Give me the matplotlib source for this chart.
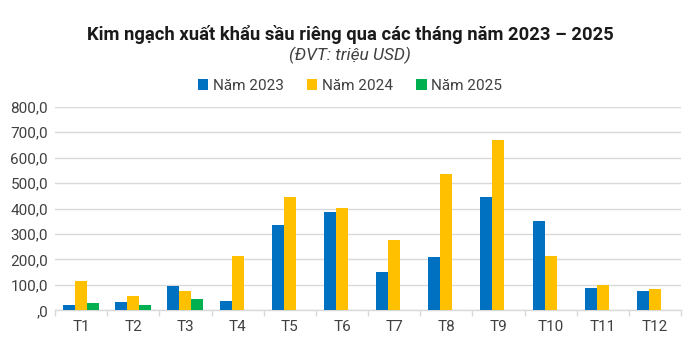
import matplotlib
matplotlib.use("Agg")
import matplotlib.pyplot as plt
import numpy as np
from matplotlib.ticker import FuncFormatter, FixedLocator

months = ["T1", "T2", "T3", "T4", "T5", "T6", "T7", "T8", "T9", "T10", "T11", "T12"]
y2023 = [22, 33, 94, 35, 335, 386, 152, 210, 444, 350, 88, 75]
y2024 = [114, 55, 77, 215, 445, 402, 276, 536, 669, 213, 100, 84]
y2025 = [29, 21, 43, np.nan, np.nan, np.nan, np.nan, np.nan, np.nan, np.nan, np.nan, np.nan]
series_names = ["Năm 2023", "Năm 2024", "Năm 2025"]
colors = ["#0070C0", "#FFC000", "#00B050"]

plt.rcParams['font.family'] = ['Roboto', 'DejaVu Sans']

fig = plt.figure(figsize=(7, 3.6), dpi=100)
ax = fig.add_axes([0.0786, 0.138, 0.973 - 0.0786, 0.7036 - 0.138])

x = np.arange(len(months))
w = 0.23
for i, (vals, name, c) in enumerate(zip([y2023, y2024, y2025], series_names, colors)):
    ax.bar(x + (i - 1) * w, vals, width=w, color=c, label=name, zorder=3)

ax.set_xlim(-0.5, len(months) - 0.5)
ax.set_ylim(0, 800)
ax.set_yticks(np.arange(0, 801, 100))

def fmt(v, pos):
    if v == 0:
        return ",0"
    return f"{v:.1f}".replace(".", ",")
ax.yaxis.set_major_formatter(FuncFormatter(fmt))
ax.grid(axis='y', color='#D9D9D9', linewidth=1, zorder=0)
for s in ['top', 'right', 'left']:
    ax.spines[s].set_visible(False)
ax.spines['bottom'].set_color('#D9D9D9')
ax.spines['bottom'].set_linewidth(1)

ax.set_xticks(x)
ax.set_xticklabels(months)
ax.xaxis.set_minor_locator(FixedLocator(np.arange(-0.5, len(months), 1)))
ax.tick_params(axis='x', which='major', length=0, pad=7, labelsize=11, labelcolor='#404040')
ax.tick_params(axis='x', which='minor', length=4, color='#D9D9D9', width=1)
ax.tick_params(axis='y', length=0, labelsize=11, labelcolor='#404040', pad=5)

fig.text(0.5, 0.905, "Kim ngạch xuất khẩu sầu riêng qua các tháng năm 2023 – 2025",
         ha='center', va='center', fontsize=13.2, fontweight='bold', color='#1a1a1a')
fig.text(0.5, 0.845, "(ĐVT: triệu USD)", ha='center', va='center', fontsize=12.5,
         style='italic', color='#404040')

leg = fig.legend(loc='center', bbox_to_anchor=(0.5, 0.762), ncol=3, frameon=False,
                 fontsize=11, handlelength=0.7, handleheight=0.7, handletextpad=0.3,
                 columnspacing=1.5)
for t in leg.get_texts():
    t.set_color('#404040')

fig.savefig("out.png", dpi=100)
